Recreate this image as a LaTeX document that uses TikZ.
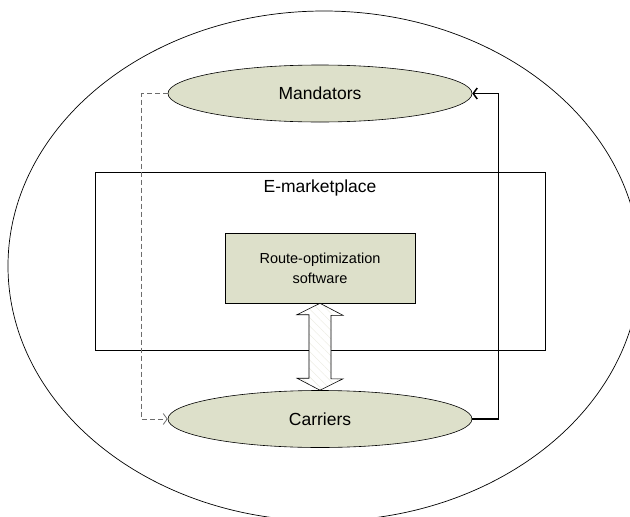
\documentclass[tikz,border=0pt]{standalone}
\usepackage{fontspec}
\setmainfont{Liberation Sans}
\usetikzlibrary{shapes.geometric,arrows.meta,patterns.meta,calc}
\definecolor{olivefill}{HTML}{DDE0CA}
\definecolor{hatch}{HTML}{E9E9DE}
\tikzset{
  oval/.style={ellipse, draw, fill=olivefill, line width=0.6pt, minimum width=304pt, minimum height=57pt, inner sep=0pt, font=\fontsize{17.5}{20}\selectfont},
  swbox/.style={rectangle, draw, fill=olivefill, line width=0.6pt, minimum width=190pt, minimum height=70pt, inner sep=0pt, align=center, font=\fontsize{14.5}{20}\selectfont},
  frame/.style={rectangle, draw, line width=0.6pt, minimum width=450pt, minimum height=178pt, inner sep=0pt},
  lbl/.style={font=\fontsize{17.5}{20}\selectfont, inner sep=0pt},
  dashconn/.style={draw=gray!85!black, dashed, dash pattern=on 5pt off 3pt, line width=0.8pt, -{Straight Barb[length=4pt,width=11pt]}},
  solidconn/.style={draw=black, line width=1.5pt, -{Straight Barb[length=4pt,width=11pt]}},
  bigarrow/.style={draw, line width=0.6pt, preaction={fill=white}, pattern={Lines[angle=-45,distance=6pt,line width=0.4pt]}, pattern color=hatch}
}
\begin{document}
\begin{tikzpicture}[x=1pt,y=-1pt]
\useasboundingbox (0,0) rectangle (630,517);
\clip (0,0) rectangle (630,517);
\draw[line width=0.7pt] (324,266) ellipse [x radius=316, y radius=255];
\node[frame] (emkt) at (320,261) {};
\node[lbl] (emlabel) at (320,188) {E-marketplace};
\node[swbox] (route) at (320,268) {Route-optimization\\software};
\node[oval] (mand) at (320,93.5) {Mandators};
\node[oval] (carr) at (320,419) {Carriers};
\draw[bigarrow] (route.south) -- ++(23,12) -- ++(-12,0) -- ++(0,63.5) -- ++(12,0) -- (carr.north) -- ++(-23,-12) -- ++(12,0) -- ++(0,-63.5) -- ++(-12,0) -- cycle;
\draw[dashconn] (mand.west) -- ++(-26,0) |- (carr.west);
\draw[solidconn] (carr.east) -- ++(26,0) |- (mand.east);
\end{tikzpicture}
\end{document}
